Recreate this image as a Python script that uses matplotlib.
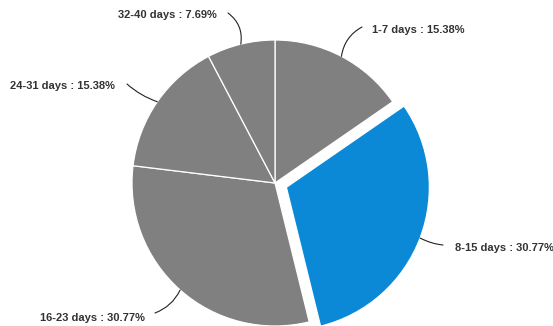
import numpy as np
from matplotlib import pyplot as plt

# share of tickets by days open
labels = ["1-7 days", "8-15 days", "16-23 days", "24-31 days", "32-40 days"]
shares = [15.38, 30.77, 30.77, 15.38, 7.69]
highlight = "8-15 days"

# layout in pixels: text anchor, leader start, alignment
text_pos = [(372, 30), (455, 248), (145, 318), (115, 86), (217, 15)]
lead_pos = [(362, 27), (443, 245), (155, 313), (127, 84), (228, 13)]
text_ha = ["left", "left", "right", "right", "right"]
lead_rad = [0.25, -0.1, 0.2, 0.1, -0.3]

W, H = 553, 326
cx, cy, R = 275, 183, 143   # pie centre and radius in pixels

def px(p):
    # pixel (from top-left) -> data units
    return ((p[0] - cx) / R, (cy - p[1]) / R)

fig = plt.figure(figsize=(W / 100, H / 100), dpi=100)
ax = fig.add_axes([0, 0, 1, 1])

cols = ["#0b89d6" if l == highlight else "#808080" for l in labels]
expl = [0.085 if l == highlight else 0 for l in labels]
wedges, _ = ax.pie(shares, colors=cols, explode=expl, startangle=90,
                   counterclock=False, radius=1,
                   wedgeprops=dict(edgecolor="white", linewidth=0.9))

for w, l, v, tp, lp, ha, rad in zip(wedges, labels, shares, text_pos,
                                    lead_pos, text_ha, lead_rad):
    mid = np.deg2rad((w.theta1 + w.theta2) / 2)
    edge = (w.center[0] + w.r * np.cos(mid), w.center[1] + w.r * np.sin(mid))
    ax.annotate("", xy=edge, xytext=px(lp),
                arrowprops=dict(arrowstyle="-", color="#222222", lw=0.8,
                                shrinkA=0, shrinkB=0,
                                connectionstyle="arc3,rad=%s" % rad))
    ax.text(*px(tp), "%s : %.2f%%" % (l, v), ha=ha, va="center",
            fontsize=8, fontweight="bold", color="#333333",
            family="Liberation Sans")

ax.set_xlim(-cx / R, (W - cx) / R)
ax.set_ylim(-(H - cy) / R, cy / R)
ax.set_aspect("equal")
ax.axis("off")

plt.savefig("out.png", dpi=100)
